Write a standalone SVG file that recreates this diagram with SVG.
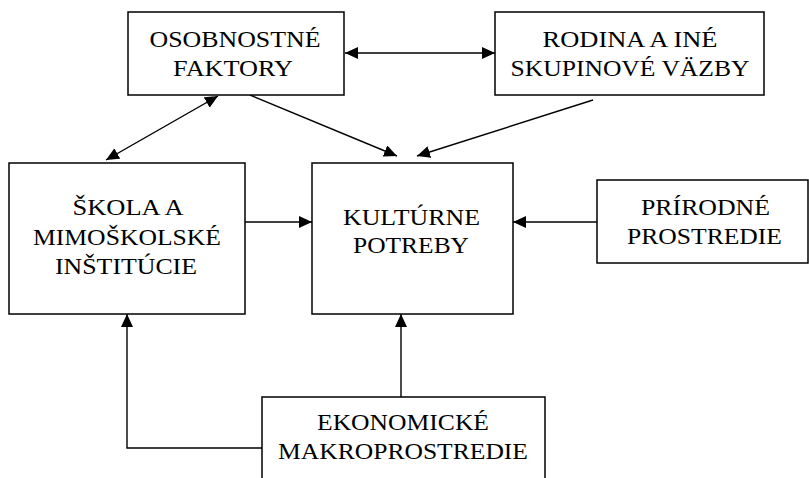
<svg xmlns="http://www.w3.org/2000/svg" width="809" height="478" viewBox="0 0 809 478">
<style>
.box{fill:#fff;stroke:#000;stroke-width:1.5}
.t{font-family:"Liberation Serif","DejaVu Serif",serif;font-size:23px;fill:#000;text-anchor:middle}
.c{fill:none;stroke:#000;stroke-width:1.4}
</style>
<defs>
<marker id="ah" markerUnits="userSpaceOnUse" markerWidth="14" markerHeight="12" refX="13" refY="6" orient="auto-start-reverse">
<path d="M0,0 L13,6 L0,12 Z" fill="#000"/>
</marker>
</defs>
<rect width="809" height="478" fill="#fff"/>
<g id="connectors">
<line class="c" x1="345" y1="53" x2="495" y2="53" marker-start="url(#ah)" marker-end="url(#ah)"/>
<line class="c" x1="218" y1="96" x2="106" y2="160" marker-start="url(#ah)" marker-end="url(#ah)"/>
<line class="c" x1="250" y1="95" x2="397" y2="156" marker-end="url(#ah)"/>
<line class="c" x1="593" y1="100" x2="417" y2="156" marker-end="url(#ah)"/>
<line class="c" x1="245" y1="222" x2="312" y2="222" marker-end="url(#ah)"/>
<line class="c" x1="597" y1="222" x2="513" y2="222" marker-end="url(#ah)"/>
<line class="c" x1="401" y1="397" x2="401" y2="314" marker-end="url(#ah)"/>
<polyline class="c" points="262,448 127,448 127,314" marker-end="url(#ah)"/>
</g>
<g id="osobnostne">
<rect class="box" x="128" y="12" width="216" height="83"/>
<text class="t" x="235" y="47" textLength="171" lengthAdjust="spacingAndGlyphs">OSOBNOSTNÉ</text>
<text class="t" x="233" y="76" textLength="120" lengthAdjust="spacingAndGlyphs">FAKTORY</text>
</g>
<g id="rodina">
<rect class="box" x="495" y="12" width="269" height="83"/>
<text class="t" x="630" y="47" textLength="175" lengthAdjust="spacingAndGlyphs">RODINA A INÉ</text>
<text class="t" x="630" y="76" textLength="239" lengthAdjust="spacingAndGlyphs">SKUPINOVÉ VÄZBY</text>
</g>
<g id="skola">
<rect class="box" x="9" y="163" width="236" height="151"/>
<text class="t" x="128" y="215" textLength="111" lengthAdjust="spacingAndGlyphs">ŠKOLA A</text>
<text class="t" x="127" y="245" textLength="188" lengthAdjust="spacingAndGlyphs">MIMOŠKOLSKÉ</text>
<text class="t" x="126" y="274" textLength="142" lengthAdjust="spacingAndGlyphs">INŠTITÚCIE</text>
</g>
<g id="kulturne">
<rect class="box" x="312" y="163" width="201" height="151"/>
<text class="t" x="411.5" y="225" textLength="137" lengthAdjust="spacingAndGlyphs">KULTÚRNE</text>
<text class="t" x="411" y="253" textLength="116" lengthAdjust="spacingAndGlyphs">POTREBY</text>
</g>
<g id="prirodne">
<rect class="box" x="597" y="180" width="211" height="83"/>
<text class="t" x="705.5" y="215" textLength="129" lengthAdjust="spacingAndGlyphs">PRÍRODNÉ</text>
<text class="t" x="704.5" y="244" textLength="155" lengthAdjust="spacingAndGlyphs">PROSTREDIE</text>
</g>
<g id="ekonomicke">
<rect class="box" x="262" y="397" width="283" height="100"/>
<text class="t" x="403" y="430" textLength="172" lengthAdjust="spacingAndGlyphs">EKONOMICKÉ</text>
<text class="t" x="403" y="459" textLength="250" lengthAdjust="spacingAndGlyphs">MAKROPROSTREDIE</text>
</g>
</svg>
